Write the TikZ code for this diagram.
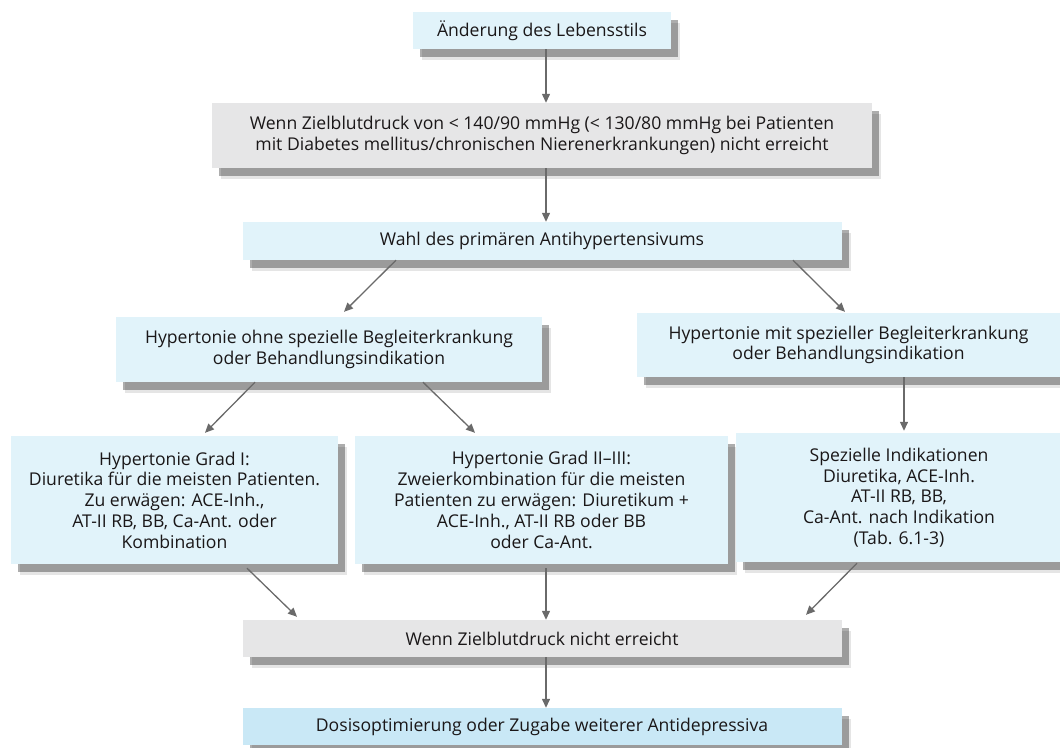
\documentclass[tikz,border=0pt]{standalone}
\usepackage{fontspec}
\setmainfont{Open Sans}
\usetikzlibrary{arrows.meta,shadows}
\definecolor{boxblue}{HTML}{E1F3FA}
\definecolor{boxgray}{HTML}{E6E6E7}
\definecolor{boxdeep}{HTML}{C9E8F6}
\definecolor{arrowgray}{HTML}{6A6A6A}
\definecolor{txt}{HTML}{1A1718}
\begin{document}
\begin{tikzpicture}[x=1pt,y=-1pt,
  box/.style={rectangle, inner sep=0pt, align=center, text=txt,
    font=\fontsize{17.6}{20.8}\selectfont,
    drop shadow={shadow xshift=9pt,shadow yshift=-11pt,fill=black,opacity=0.10},
    drop shadow={shadow xshift=7pt,shadow yshift=-8pt,fill=black,opacity=0.32}},
  bluebox/.style={box, fill=boxblue},
  graybox/.style={box, fill=boxgray},
  deepbox/.style={box, fill=boxdeep},
  conn/.style={draw=arrowgray, line width=1.3pt, -{Triangle[length=9pt,width=8pt]}}]
\useasboundingbox (0,0) rectangle (1060,747);

\node[bluebox, minimum width=258pt, minimum height=37pt] (n1) at (542,30.5) {Änderung des Lebensstils};
\node[graybox, minimum width=660pt, minimum height=65pt] (n2) at (542,135.5) {Wenn Zielblutdruck von < 140/90 mmHg (< 130/80 mmHg bei Patienten\\mit Diabetes mellitus/chronischen Nierenerkrankungen) nicht erreicht};
\node[bluebox, minimum width=599pt, minimum height=38pt] (n3) at (542,241) {Wahl des primären Antihypertensivums};
\node[bluebox, minimum width=426pt, minimum height=65pt] (ohne) at (329,349.5) {Hypertonie ohne spezielle Begleiterkrankung\\oder Behandlungsindikation};
\node[bluebox, minimum width=423pt, minimum height=64pt] (mit) at (848.5,345) {Hypertonie mit spezieller Begleiterkrankung\\oder Behandlungsindikation};
\node[bluebox, minimum width=327pt, minimum height=128pt] (g1) at (174.5,500) {Hypertonie Grad I:\\Diuretika für die meisten Patienten.\\Zu erwägen: ACE-Inh.,\\AT-II RB, BB, Ca-Ant. oder\\Kombination};
\node[bluebox, minimum width=373pt, minimum height=128pt] (g2) at (541.5,500) {Hypertonie Grad II–III:\\Zweierkombination für die meisten\\Patienten zu erwägen: Diuretikum +\\ACE-Inh., AT-II RB oder BB\\oder Ca-Ant.};
\node[bluebox, minimum width=326pt, minimum height=129pt] (spez) at (899,497.5) {Spezielle Indikationen\\Diuretika, ACE-Inh.\\AT-II RB, BB,\\Ca-Ant. nach Indikation\\(Tab. 6.1-3)};
\node[graybox, minimum width=599pt, minimum height=37pt] (wenn) at (542,638.5) {Wenn Zielblutdruck nicht erreicht};
\node[deepbox, minimum width=599pt, minimum height=37pt] (dosis) at (542,726.5) {Dosisoptimierung oder Zugabe weiterer Antidepressiva};

\draw[conn] ([xshift=4pt]n1.south) -- ([xshift=4pt]n2.north);
\draw[conn] ([xshift=4pt]n2.south) -- ([xshift=4pt]n3.north);
\draw[conn] ([xshift=-146pt]n3.south) -- ([xshift=15pt,yshift=5pt]ohne.north);
\draw[conn] ([xshift=251pt]n3.south) -- ([xshift=-3.5pt,yshift=1pt]mit.north);
\draw[conn] ([xshift=55.5pt]mit.south) -- ([xshift=5pt,yshift=2pt]spez.north);
\draw[conn] ([xshift=-74pt]ohne.south) -- ([xshift=30.5pt,yshift=3pt]g1.north);
\draw[conn] ([xshift=94pt]ohne.south) -- ([xshift=-66.5pt,yshift=3pt]g2.north);
\draw[conn] ([xshift=72.5pt,yshift=-4pt]g1.south) -- ([xshift=-245pt,yshift=3pt]wenn.north);
\draw[conn] ([xshift=4.5pt,yshift=-4pt]g2.south) -- ([xshift=4pt]wenn.north);
\draw[conn] ([xshift=-42pt,yshift=-1pt]spez.south) -- ([xshift=264pt,yshift=5pt]wenn.north);
\draw[conn] ([xshift=4pt]wenn.south) -- ([xshift=4pt]dosis.north);
\end{tikzpicture}
\end{document}
